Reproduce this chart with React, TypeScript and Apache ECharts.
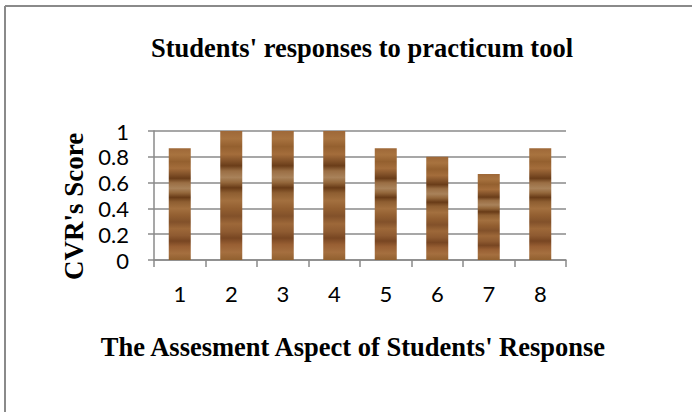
import React, { useEffect, useRef } from "react";
import * as echarts from "echarts";

const categories = ["1", "2", "3", "4", "5", "6", "7", "8"];
const cvrScores = [0.867, 1, 1, 1, 0.867, 0.8, 0.667, 0.867];
const yTicks = [0, 0.2, 0.4, 0.6, 0.8, 1];

const titleText = "Students' responses to practicum tool";
const xName = "The Assesment Aspect of Students' Response";
const yName = "CVR's Score";

const woodStops: [number, string][] = [
  [0, "#9e6838"],
  [0.06, "#a8733f"],
  [0.12, "#94602f"],
  [0.18, "#a46d3b"],
  [0.23, "#84532a"],
  [0.27, "#6a3d19"],
  [0.31, "#9a6e44"],
  [0.36, "#a9825a"],
  [0.4, "#93663a"],
  [0.44, "#683b17"],
  [0.48, "#8e5e31"],
  [0.54, "#a3703f"],
  [0.6, "#935f31"],
  [0.66, "#82512a"],
  [0.72, "#9d6839"],
  [0.78, "#8f5b31"],
  [0.83, "#784622"],
  [0.88, "#985f33"],
  [0.94, "#a56f3f"],
  [1, "#91602f"],
];

export default function App() {
  const ref = useRef<HTMLDivElement>(null);
  useEffect(() => {
    if (!ref.current) return;
    const chart = echarts.init(ref.current, undefined, { renderer: "svg" });
    const gridColor = "#8a8a8a";
    chart.setOption({
      animation: false,
      backgroundColor: "#ffffff",
      title: {
        text: titleText,
        left: 357,
        top: 29,
        textAlign: "center",
        textStyle: {
          fontFamily: "Liberation Serif",
          fontWeight: "bold",
          fontSize: 26.5,
          color: "#000",
        },
      },
      grid: { left: 154, right: 126, top: 131, bottom: 152 },
      xAxis: {
        type: "category",
        data: categories,
        name: xName,
        nameLocation: "middle",
        nameGap: 73,
        nameTextStyle: {
          fontFamily: "Liberation Serif",
          fontWeight: "bold",
          fontSize: 26.5,
          color: "#000",
          padding: [0, 14, 0, 0],
        },
        axisLine: { lineStyle: { color: gridColor, width: 1.5 } },
        axisTick: { show: true, length: 7, inside: false, lineStyle: { color: gridColor, width: 1.5 } },
        axisLabel: { margin: 22, fontFamily: "Lato", fontSize: 22, color: "#000" },
      },
      yAxis: {
        type: "value",
        min: 0,
        max: 1,
        interval: 0.2,
        name: yName,
        nameLocation: "middle",
        nameGap: 64,
        nameTextStyle: {
          fontFamily: "Liberation Serif",
          fontWeight: "bold",
          fontSize: 27,
          color: "#000",
          padding: [0, 22, 0, 0],
        },
        axisLine: { show: true, lineStyle: { color: gridColor, width: 1.5 } },
        axisTick: { show: true, length: 6, lineStyle: { color: gridColor, width: 1.5 } },
        splitLine: { show: true, lineStyle: { color: gridColor, width: 1.5 } },
        axisLabel: {
          margin: 25,
          fontFamily: "Lato",
          fontSize: 22,
          color: "#000",
          formatter: (v: number) => {
            const t = yTicks.find((x) => Math.abs(x - v) < 1e-9);
            return t === undefined ? "" : String(t);
          },
        },
      },
      series: [
        {
          type: "bar",
          data: cvrScores,
          barWidth: 22,
          itemStyle: {
            color: {
              type: "linear",
              x: 0,
              y: 0,
              x2: 0,
              y2: 1,
              colorStops: woodStops.map(([offset, color]) => ({ offset, color })),
            },
          },
        },
      ],
      graphic: [
        { type: "line", shape: { x1: 5, y1: 6, x2: 5, y2: 412 }, style: { stroke: "#8a8a8a", lineWidth: 2 } },
        { type: "line", shape: { x1: 5, y1: 6, x2: 692, y2: 6 }, style: { stroke: "#8a8a8a", lineWidth: 2 } },
      ],
    });
    return () => chart.dispose();
  }, []);
  return <div ref={ref} style={{ width: 692, height: 412, position: "absolute", left: 0, top: 0 }} />;
}
